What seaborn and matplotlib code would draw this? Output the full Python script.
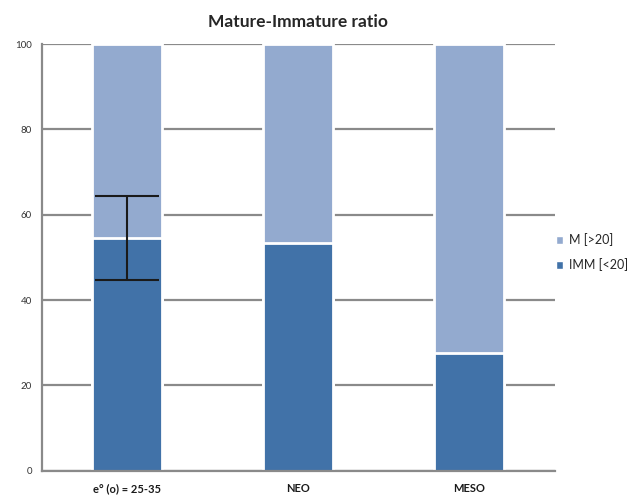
import numpy as np
import pandas as pd
import matplotlib
matplotlib.use("Agg")
import matplotlib.pyplot as plt
import seaborn as sns
from matplotlib.patches import Patch

# data
groups = ["e° (o) = 25-35", "NEO", "MESO"]
imm = [54.5, 53.4, 27.7]      # IMM [<20]
mature = [45.5, 46.6, 72.3]   # M [>20]
imm_err = [9.8, 0.0, 0.0]

dark = "#4172a8"
light = "#93aacf"

sns.set_theme(style="white")
plt.rcParams["font.family"] = ["Lato", "DejaVu Sans"]

df = pd.DataFrame({"group": groups, "imm": imm, "mature": mature})
df["total"] = df["imm"] + df["mature"]

fig = plt.figure(figsize=(6.32, 4.95), dpi=100)
ax = fig.add_axes([0.066, 0.049, 0.812, 0.862])

# stacked bars: total (light) underneath, IMM (dark) on top
sns.barplot(data=df, x="group", y="total", color=light, width=0.41,
            edgecolor="white", linewidth=2, saturation=1, ax=ax)
sns.barplot(data=df, x="group", y="imm", color=dark, width=0.41,
            edgecolor="white", linewidth=2, saturation=1, ax=ax)

# error bar on first group only
ax.errorbar([0], [imm[0]], yerr=[imm_err[0]], fmt="none", ecolor="#1a1a1a",
            elinewidth=1.5, capsize=23, capthick=1.5, zorder=5)

ax.set_ylim(0, 100)
ax.set_xlim(-0.5, 2.5)
ax.set_yticks([0, 20, 40, 60, 80, 100])
ax.set_axisbelow(True)
ax.yaxis.grid(True, color="#8a8a8a", linewidth=1.6)
ax.xaxis.grid(False)
for side in ["top", "right"]:
    ax.spines[side].set_visible(False)
for side in ["left", "bottom"]:
    ax.spines[side].set_color("#8a8a8a")
    ax.spines[side].set_linewidth(1.6)

ax.tick_params(axis="y", length=0, labelsize=7, labelcolor="#333333", pad=7)
ax.tick_params(axis="x", length=0, labelsize=8, labelcolor="#1a1a1a", pad=9)
for lbl in ax.get_xticklabels():
    lbl.set_fontweight("bold")
ax.set_xlabel("")
ax.set_ylabel("")

ax.set_title("Mature-Immature ratio", fontsize=12.5, fontweight="bold", pad=12)

handles = [Patch(facecolor=light, label="M [>20]"),
           Patch(facecolor=dark, label="IMM [<20]")]
fig.legend(handles=handles, loc="center left", bbox_to_anchor=(0.862, 0.49),
           frameon=False, fontsize=9, handlelength=0.55, handleheight=0.55,
           handletextpad=0.5, labelspacing=0.95)

fig.savefig("out.png", dpi=100)
